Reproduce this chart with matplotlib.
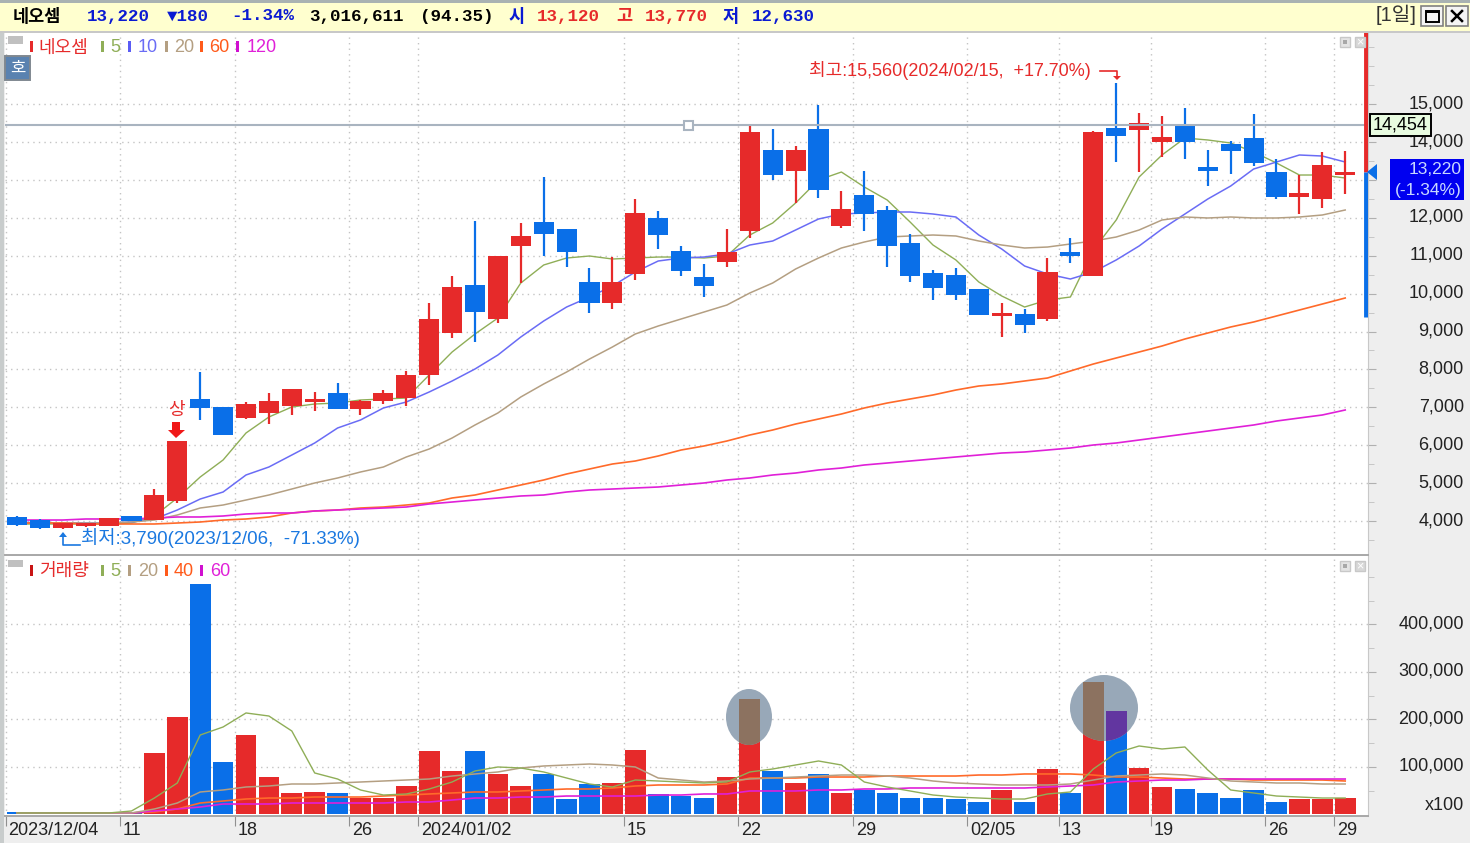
import matplotlib
matplotlib.use("Agg")
import matplotlib.pyplot as plt
import matplotlib.patches as patches
from matplotlib.transforms import ScaledTranslation
import numpy as np

NARROW = ['Liberation Sans', 'Noto Sans CJK KR', 'DejaVu Sans']
MONO = ['Liberation Mono', 'Noto Sans CJK KR', 'DejaVu Sans']
plt.rcParams['font.family'] = NARROW

RED = '#e62a2a'
BLUE = '#0a6fe8'
GRID = '#c4c4c4'
STRIP = '#eeeeee'

# Candles
opens = [4105, 4025, 3825, 3870, 3870, 4130, 4030, 4535, 7220, 7015, 6720, 6850, 7035, 7150, 7370,
         6955, 7165, 7240, 7850, 8970, 10230, 9320, 11265, 11890, 11695, 10305, 9760, 10515, 12000, 11130,
         10430, 10835, 11660, 13790, 13245, 14335, 11785, 12595, 12205, 11325, 10535, 10500, 10115, 9400, 9460,
         9330, 11090, 10470, 14375, 14315, 13990, 14420, 13350, 13945, 14100, 13200, 12540, 12495, 13120]
highs = [4130, 4040, 3960, 3960, 4080, 4140, 4840, 6110, 7930, 7015, 7130, 7380, 7480, 7410, 7650,
         7200, 7460, 7970, 9750, 10465, 11920, 10990, 11855, 13070, 11695, 10670, 10975, 12490, 12170, 11255,
         10780, 11695, 14420, 14335, 13900, 14975, 12715, 13235, 12310, 11565, 10625, 10670, 10115, 9750, 9595,
         10930, 11460, 14300, 15560, 14775, 14695, 14890, 13790, 14025, 14740, 13545, 13130, 13745, 13770]
lows = [3870, 3800, 3790, 3840, 3860, 4000, 4030, 4470, 6665, 6270, 6690, 6560, 6800, 6910, 6955,
        6800, 7090, 7040, 7590, 8830, 8730, 9215, 10290, 10990, 10710, 9480, 9595, 10360, 11185, 10470,
        9920, 10710, 11460, 13000, 12380, 12530, 11740, 11660, 10710, 10315, 9830, 9830, 9445, 8855, 8960,
        9285, 10800, 10470, 13480, 13200, 13610, 13550, 12845, 13155, 13365, 12490, 12090, 12250, 12630]
closes = [3895, 3815, 3955, 3955, 4070, 4010, 4690, 6110, 6990, 6270, 7095, 7175, 7480, 7210, 6955,
          7175, 7370, 7850, 9320, 10180, 9520, 10990, 11530, 11575, 11100, 9760, 10305, 12120, 11545, 10595,
          10200, 11090, 14270, 13130, 13790, 12735, 12240, 12090, 11265, 10470, 10155, 9965, 9445, 9480, 9170,
          10580, 10985, 14265, 14160, 14510, 14140, 13990, 13245, 13765, 13440, 12555, 12645, 13395, 13220]

# Price moving averages
ma5 = [3920, 3920, 3920, 3920, 3920, 3947, 4132, 4607, 5161, 5610, 6322, 6744, 7008, 7087, 7113,
       7193, 7219, 7245, 7852, 8459, 8934, 9356, 10280, 10755, 10939, 10992, 10913, 10939, 10965, 10965,
       10939, 10992, 11546, 11863, 12391, 12997, 13208, 12813, 12470, 11889, 11282, 10887, 10306, 9937, 9646,
       9831, 9910, 11150, 11942, 13076, 13657, 14105, 14053, 13974, 13736, 13446, 13129, 13129, 13050]
ma10 = [3974, 3947, 3947, 3947, 3947, 3974, 4053, 4290, 4580, 4765, 5214, 5425, 5741, 6058, 6454,
        6665, 6982, 7140, 7404, 7694, 8011, 8380, 8855, 9277, 9646, 9910, 10200, 10570, 10860, 10939,
        10965, 11045, 11282, 11388, 11678, 11968, 12100, 12127, 12153, 12153, 12100, 12021, 11546, 11177, 10728,
        10517, 10385, 10570, 10887, 11256, 11704, 12100, 12496, 12839, 13287, 13472, 13657, 13630, 13472]
ma20 = [3947, 3947, 3947, 3947, 3947, 3974, 4026, 4158, 4343, 4422, 4554, 4686, 4844, 5003, 5135,
        5293, 5425, 5689, 5900, 6190, 6533, 6850, 7272, 7615, 7931, 8274, 8591, 8934, 9145, 9330,
        9514, 9699, 10016, 10280, 10649, 10939, 11203, 11361, 11493, 11520, 11546, 11520, 11388, 11282, 11203,
        11229, 11309, 11388, 11493, 11678, 11942, 12021, 11995, 12021, 11995, 11995, 12021, 12074, 12206]
ma60 = [3947, 3947, 3947, 3921, 3921, 3921, 3921, 3947, 3974, 4026, 4053, 4106, 4211, 4264, 4290,
        4343, 4369, 4422, 4475, 4607, 4686, 4818, 4950, 5082, 5240, 5372, 5504, 5583, 5715, 5873,
        5979, 6111, 6269, 6401, 6559, 6691, 6823, 6982, 7113, 7219, 7325, 7456, 7562, 7615, 7694,
        7773, 7958, 8142, 8301, 8459, 8617, 8802, 8960, 9119, 9251, 9409, 9567, 9725, 9884]
ma120 = [4026, 4026, 4026, 4053, 4053, 4053, 4079, 4106, 4106, 4132, 4185, 4211, 4211, 4264, 4290,
         4317, 4343, 4369, 4449, 4501, 4554, 4607, 4660, 4686, 4765, 4818, 4844, 4871, 4897, 4950,
         5003, 5082, 5135, 5214, 5266, 5346, 5398, 5478, 5530, 5583, 5636, 5689, 5741, 5794, 5821,
         5873, 5926, 6005, 6058, 6137, 6216, 6295, 6374, 6454, 6533, 6638, 6718, 6797, 6929]

# Volume, in units of 100 shares
volumes = [5900, 5900, 3800, 3800, 3800, 5300, 130100, 205900, 485200, 111100, 167300, 79600, 44600, 48000, 44600,
           34100, 34100, 60000, 133700, 92200, 133700, 85300, 60000, 85300, 32600, 63600, 66900, 135800, 43200, 38900,
           35400, 79600, 243100, 92200, 65700, 85300, 44600, 51600, 44600, 35400, 35400, 32000, 25700, 50900, 25700,
           95100, 44600, 278300, 217900, 98500, 57300, 53700, 44600, 35400, 50900, 25700, 32000, 32000, 35400]
vol5 = [3200, 3200, 3200, 3200, 3200, 7400, 34700, 66300, 167300, 184200, 213700, 207300, 175800, 87400, 74700,
        51600, 41000, 43200, 53700, 68400, 91600, 100000, 97900, 89500, 76800, 64200, 57900, 72600, 70500, 68400,
        66300, 68400, 89500, 95800, 104200, 112600, 104200, 68400, 57900, 49500, 41000, 36800, 34700, 32600, 32600,
        43200, 47400, 95800, 129500, 144200, 137900, 142100, 93700, 51600, 45300, 38900, 36800, 34700, 34700]
vol20 = [3200, 3200, 3200, 3200, 3200, 3200, 11600, 24200, 47400, 51600, 57900, 60000, 64200, 64200, 66300,
         68400, 70500, 72600, 74700, 81000, 85300, 89500, 97900, 102100, 104200, 106300, 104200, 100000, 76800, 72600,
         68400, 70500, 74700, 76800, 78900, 81000, 83100, 83100, 81000, 76800, 70500, 66300, 64200, 62100, 62100,
         62100, 64200, 72600, 81000, 83100, 85300, 83100, 76800, 70500, 68400, 66300, 66300, 64200, 64200]
vol40 = [3200, 3200, 3200, 3200, 3200, 3200, 5300, 11600, 24200, 28400, 32600, 34700, 34700, 36800, 36800,
         36800, 38900, 41000, 43200, 45300, 47400, 47400, 49500, 51600, 53700, 53700, 55800, 60000, 62100, 62100,
         62100, 64200, 76800, 76800, 76800, 78900, 78900, 78900, 81000, 81000, 81000, 81000, 83100, 83100, 85300,
         85300, 85300, 83100, 78900, 78900, 76800, 74700, 74700, 74700, 72600, 72600, 72600, 72600, 70500]
vol60 = [3200, 3200, 3200, 3200, 3200, 3200, 7400, 11600, 15800, 22100, 22100, 22100, 24200, 24200, 24200,
         24200, 24200, 26300, 26300, 30500, 34700, 34700, 36800, 36800, 38900, 38900, 38900, 38900, 41000, 41000,
         43200, 43200, 49500, 49500, 49500, 51600, 51600, 53700, 53700, 55800, 55800, 55800, 55800, 55800, 55800,
         57900, 60000, 62100, 68400, 70500, 72600, 72600, 74700, 74700, 74700, 74700, 74700, 74700, 74700]

# Axis labels: the tick sits on the left edge of the candle
date_pos = [0, 5, 10, 15, 18, 27, 32, 37, 42, 46, 50, 55, 58]
date_labels = ['2023/12/04', '11', '18', '26', '2024/01/02', '15', '22', '29', '02/05', '13', '19', '26', '29']
price_ticks = np.arange(4000, 15001, 1000)
vol_ticks = [100000, 200000, 300000, 400000]

upper_limit = 17420
lower_limit = 9380
ref_line = 14454
last_price = 13220

W, H = 1470, 843
fig = plt.figure(figsize=(W / 100, H / 100), dpi=100, facecolor=STRIP)


def box(x0, y0, x1, y1):
    return [x0 / W, 1 - y1 / H, (x1 - x0) / W, (y1 - y0) / H]


ax = fig.add_axes(box(5, 33, 1368, 555))
vax = fig.add_axes(box(5, 556, 1368, 816))
ov = fig.add_axes([0, 0, 1, 1], zorder=10)
ov.set_xlim(0, W)
ov.set_ylim(H, 0)
ov.axis('off')
ov.patch.set_alpha(0)

n = len(closes)
xs = np.arange(n)
is_up = np.array(closes) >= np.array(opens)
colors = [RED if u else BLUE for u in is_up]
xlim = ((5 - 17) / 22.9, (1368 - 17) / 22.9)

# price panel
ax.set_xlim(*xlim)
ax.set_ylim(3103, 16876)
for vals, c, lw in [(ma5, '#8fae57', 1.0), (ma10, '#6a6cf5', 1.1), (ma20, '#b49f82', 1.1),
                    (ma60, '#ff6a2a', 1.2), (ma120, '#e020d8', 1.2)]:
    ax.plot(xs, vals, color=c, lw=lw, zorder=2)
ax.vlines(xs, lows, highs, colors=colors, lw=1.6, zorder=3)
bottoms = np.minimum(opens, closes)
heights = np.abs(np.array(closes) - np.array(opens))
ax.bar(xs, heights, 0.88, bottom=bottoms, color=colors, edgecolor='none', zorder=4)
ax.axhline(ref_line, color='#a9b4c0', lw=1.5, zorder=5)

# day range bar next to the axis
trans = ax.get_yaxis_transform()
ax.plot([0.9985, 0.9985], [last_price, upper_limit], color=RED, lw=3.5, transform=trans, zorder=6, solid_capstyle='butt')
ax.plot([0.9985, 0.9985], [lower_limit, last_price], color=BLUE, lw=3.5, transform=trans, zorder=6, solid_capstyle='butt')

# volume panel
vax.set_xlim(*xlim)
vax.set_ylim(-3160, 544100)
vax.bar(xs, volumes, 0.9, color=colors, edgecolor='none', zorder=3)
for vals, c, lw in [(vol40, '#ff6a2a', 1.2), (vol60, '#e020d8', 1.2), (vol20, '#b49f82', 1.1), (vol5, '#8fae57', 1.0)]:
    vax.plot(xs, vals, color=c, lw=lw, zorder=4)

# grey highlight ellipses with the bars seen through them
for cx, cy, w, h in [(749, 717, 46, 56), (1104, 708, 68, 66)]:
    ell = patches.Ellipse((cx, cy), w, h, facecolor='#98a8b8', edgecolor='none', transform=ov.transData, zorder=5)
    vax.add_patch(ell)
    shaded = vax.bar(xs, volumes, 0.9, color=['#8c7260' if u else '#6236a0' for u in is_up], edgecolor='none', zorder=6)
    for b in shaded:
        b.set_clip_path(ell)

up_shift = ScaledTranslation(0, 2.5 / 100, fig.dpi_scale_trans)
for a, ticks, minor in [(ax, price_ticks, np.arange(3500, 16501, 500)), (vax, vol_ticks, np.arange(50000, 500001, 50000))]:
    a.set_facecolor('white')
    for s in a.spines.values():
        s.set_visible(False)
    a.spines['bottom'].set_visible(True)
    a.spines['bottom'].set_color('#a8a8a8')
    a.spines['bottom'].set_linewidth(1.4)
    a.spines['right'].set_visible(True)
    a.spines['right'].set_color('#c8c8c8')
    a.yaxis.tick_right()
    a.set_yticks(ticks)
    a.set_yticks(minor, minor=True)
    a.tick_params(axis='y', which='major', length=6, color='#b0b0b0', labelsize=13, labelcolor='#222222', pad=63)
    a.tick_params(axis='y', which='minor', length=4, color='#c0c0c0')
    a.set_xticks([p - 0.5 for p in date_pos])
    a.grid(True, which='major', color=GRID, linestyle=(0, (1, 3)), lw=1.0, zorder=0)
    a.set_axisbelow(True)

ax.tick_params(axis='x', length=0, labelbottom=False)
ax.set_yticklabels([f'{v:,}' for v in price_ticks], ha='right')
vax.set_yticklabels([f'{v:,}' for v in vol_ticks], ha='right')
for a in (ax, vax):
    for lab in a.get_yticklabels():
        lab.set_transform(lab.get_transform() + up_shift)
vax.tick_params(axis='x', length=7, color='#909090', labelsize=13, labelcolor='#222222', pad=-2.7, direction='out')
vax.set_xticklabels(date_labels, ha='left')
right_shift = ScaledTranslation(3 / 100, 0, fig.dpi_scale_trans)
for lab in vax.get_xticklabels():
    lab.set_transform(lab.get_transform() + right_shift)
ov.text(1464, 806, 'x100', fontsize=13, color='#222222', ha='right', va='center')


def txt(x, y, s, color='black', size=13, fam=NARROW, weight='normal', ha='left'):
    ov.text(x, y, s, color=color, fontsize=size, family=fam, weight=weight, ha=ha, va='center')


def rect(x0, y0, x1, y1, fc, ec='none', lw=1.0):
    ov.add_patch(patches.Rectangle((x0, y0), x1 - x0, y1 - y0, facecolor=fc, edgecolor=ec, linewidth=lw))


# header band
rect(0, 0, W, 3, '#a9b2b2')
rect(0, 3, W, 31, '#ffffcf')
rect(0, 31, W, 33, '#c8c8c8')
NAVY = '#0a1ad2'
head = [(13, '네오셈', 'black'), (87, '13,220', NAVY), (167, '▼180', NAVY), (231, '-1.34%', NAVY),
        (309, '3,016,611', 'black'), (420, '(94.35)', 'black'), (508, '시', NAVY), (537, '13,120', RED),
        (616, '고', RED), (645, '13,770', RED), (723, '저', NAVY), (752, '12,630', NAVY)]
for x, s, c in head:
    txt(x, 16, s, color=c, size=12.6, fam=MONO, weight='bold')
txt(1376, 15, '[1일]', color='#333333', size=14.5)
for x0 in (1421, 1446):
    rect(x0, 6, x0 + 22, 26, '#f4f4f4', ec='#808080', lw=1.2)
rect(1426, 11, 1439, 22, 'none', ec='black', lw=1.4)
rect(1426, 11, 1439, 13, 'black')
ov.plot([1452, 1462], [11, 21], color='black', lw=1.8)
ov.plot([1452, 1462], [21, 11], color='black', lw=1.8)
rect(0, 33, 4, H, '#c8cccc')

# legends
rect(8, 36, 23, 44, '#c0c0c0')
legend_main = [(30, '#e62a2a', 38, '네오셈', RED), (101, '#8fae57', 110, '5', '#8fae57'), (128, '#5a5cf5', 138, '10', '#6a6cf5'),
               (165, '#b49f82', 174, '20', '#b49f82'), (200, '#ff5a1a', 209, '60', '#ff5a1a'), (236, '#d010d0', 247, '120', '#e020d8')]
for x0, c0, x1, s, c1 in legend_main:
    rect(x0, 41, x0 + 3.5, 52, c0)
    txt(x1, 48, s, color=c1, size=13)
rect(8, 560, 23, 567, '#c0c0c0')
legend_vol = [(30, '#c81414', 39, '거래량', RED), (101, '#8fae57', 110, '5', '#8fae57'), (128, '#b49f82', 138, '20', '#b49f82'),
              (165, '#ff5a1a', 174, '40', '#ff5a1a'), (200, '#d010d0', 210, '60', '#e020d8')]
for x0, c0, x1, s, c1 in legend_vol:
    rect(x0, 565, x0 + 3.5, 576, c0)
    txt(x1, 571, s, color=c1, size=13)

# small panel buttons
for y in (37, 561):
    rect(1340, y, 1350, y + 10, '#e4e4e4', ec='#c8c8c8')
    rect(1343, y + 3, 1347, y + 7, '#a8a8a8')
    rect(1355, y, 1365, y + 10, '#d8d8d8', ec='#c8c8c8')
    txt(1360, y + 5, '×', color='#ffffff', size=9, ha='center')

rect(5, 56, 30, 80, '#5a82b0', ec='#808890', lw=1.4)
txt(17.5, 68, '호', color='white', size=12, ha='center', fam=['Noto Sans CJK KR'])

# line handle and price tags
rect(684, 121, 693, 130, 'white', ec='#a9b4c0', lw=1.5)
rect(1370, 114, 1431, 136, '#e8fbe0', ec='black', lw=1.4)
txt(1400, 125, f'{ref_line:,}', color='black', size=13, ha='center')
rect(1390, 159, 1464, 200, '#0000f0')
txt(1462, 169, f'{last_price:,}', color='#c8d8ff', size=12.5, ha='right')
txt(1462, 190, '(-1.34%)', color='#c8d8ff', size=12.5, ha='right')
ov.add_patch(patches.Polygon([[1377, 164], [1377, 180], [1367, 172]], facecolor=BLUE, edgecolor='none'))

# high and low notes
txt(809, 71, '최고:15,560(2024/02/15,  +17.70%)', color=RED, size=13)
ov.plot([1100, 1117, 1117], [71, 71, 77], color=RED, lw=1.2)
ov.add_patch(patches.Polygon([[1113, 76], [1121, 76], [1117, 80]], facecolor=RED, edgecolor='none'))
txt(81, 538, '최저:3,790(2023/12/06,  -71.33%)', color='#1a78e0', size=13.5)
ov.plot([63, 63, 80], [534, 545, 545], color='#1a78e0', lw=1.2)
ov.add_patch(patches.Polygon([[59, 537], [67, 537], [63, 532]], facecolor='#1a78e0', edgecolor='none'))
txt(176, 410, '상', color=RED, size=13, ha='center', fam=['Noto Sans CJK KR'])
ov.add_patch(patches.Polygon([[172, 422], [180, 422], [180, 430], [185, 430], [176, 438], [168, 430], [172, 430]],
                             facecolor='#f01818', edgecolor='none'))

fig.savefig('out.png', dpi=100, facecolor=fig.get_facecolor())
